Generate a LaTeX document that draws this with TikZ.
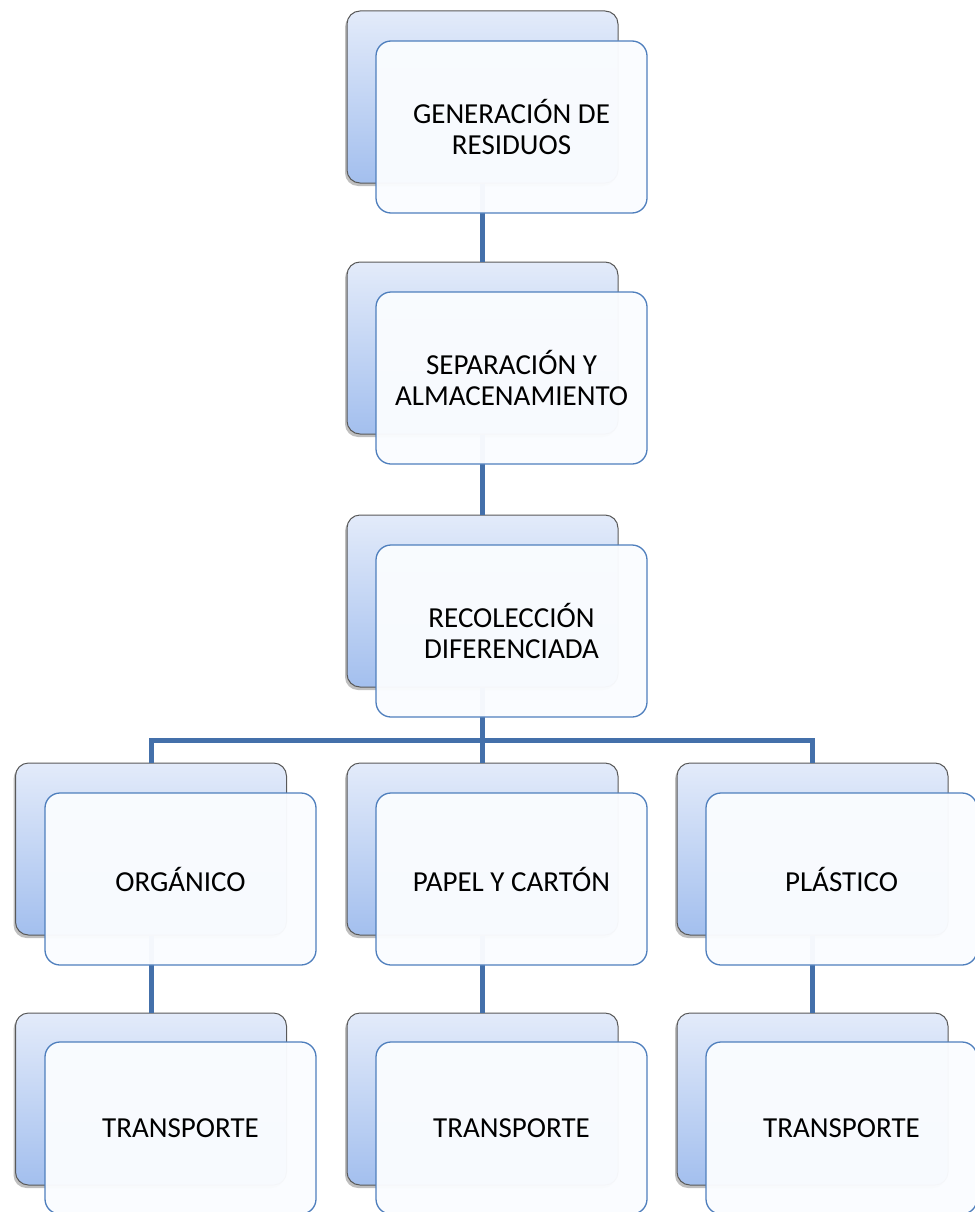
\documentclass[tikz,border=0pt]{standalone}
\usepackage{fontspec}
\setmainfont{Carlito}
\usetikzlibrary{shadows}
\definecolor{frameblue}{HTML}{4F7FBD}
\definecolor{linkblue}{HTML}{4470AA}
\definecolor{backtop}{HTML}{E3EBFA}
\definecolor{backbot}{HTML}{A3BFEE}
\definecolor{frontfill}{HTML}{FAFCFF}
\tikzset{
  x=1pt, y=-1pt,
  backbox/.style={draw=black!65, line width=1pt, rounded corners=13pt,
    top color=backtop, bottom color=backbot,
    minimum width=271pt, minimum height=172pt, inner sep=0pt,
    drop shadow={shadow xshift=-2pt, shadow yshift=-3pt, opacity=0.25, fill=black}},
  frontbox/.style={draw=frameblue, line width=1.3pt, rounded corners=15pt,
    fill=frontfill, fill opacity=0.97, text opacity=1,
    minimum width=271pt, minimum height=172pt, inner sep=0pt, align=center,
    font=\fontsize{29}{31}\selectfont},
  link/.style={draw=linkblue, line width=5pt}
}
\begin{document}
\begin{tikzpicture}
\useasboundingbox (0,0) rectangle (974,1212);
\fill[white] (0,0) rectangle (974,1212);

% back (shaded) cards
\node[backbox] (b1) at (482.5,97) {};
\node[backbox] (b2) at (482.5,348) {};
\node[backbox] (b3) at (482.5,601) {};
\node[backbox] (b4a) at (151,849) {};
\node[backbox] (b4b) at (482.5,849) {};
\node[backbox] (b4c) at (812.5,849) {};
\node[backbox] (b5a) at (151,1099) {};
\node[backbox] (b5b) at (482.5,1099) {};
\node[backbox] (b5c) at (812.5,1099) {};

% connectors between the cards
\coordinate (bus) at (482.5,740);
\draw[link] (b1.south) -- (b2.north);
\draw[link] (b2.south) -- (b3.north);
\draw[link] (b3.south) -- (bus);
\draw[link] (bus) -| (b4a.north);
\draw[link] (bus) -| (b4c.north);
\draw[link] (bus) -- (b4b.north);
\draw[link] (b4a.south) -- (b5a.north);
\draw[link] (b4b.south) -- (b5b.north);
\draw[link] (b4c.south) -- (b5c.north);

% front cards with the labels
\node[frontbox] (f1) at (511.5,127) {GENERACIÓN DE\\RESIDUOS};
\node[frontbox] (f2) at (511.5,378) {SEPARACIÓN Y\\ALMACENAMIENTO};
\node[frontbox] (f3) at (511.5,631) {RECOLECCIÓN\\DIFERENCIADA};
\node[frontbox] (f4a) at (180.5,879) {ORGÁNICO};
\node[frontbox] (f4b) at (511.5,879) {PAPEL Y CARTÓN};
\node[frontbox] (f4c) at (841.5,879) {PLÁSTICO};
\node[frontbox] (f5a) at (180.5,1128) {TRANSPORTE};
\node[frontbox] (f5b) at (511.5,1128) {TRANSPORTE};
\node[frontbox] (f5c) at (841.5,1128) {TRANSPORTE};
\end{tikzpicture}
\end{document}
